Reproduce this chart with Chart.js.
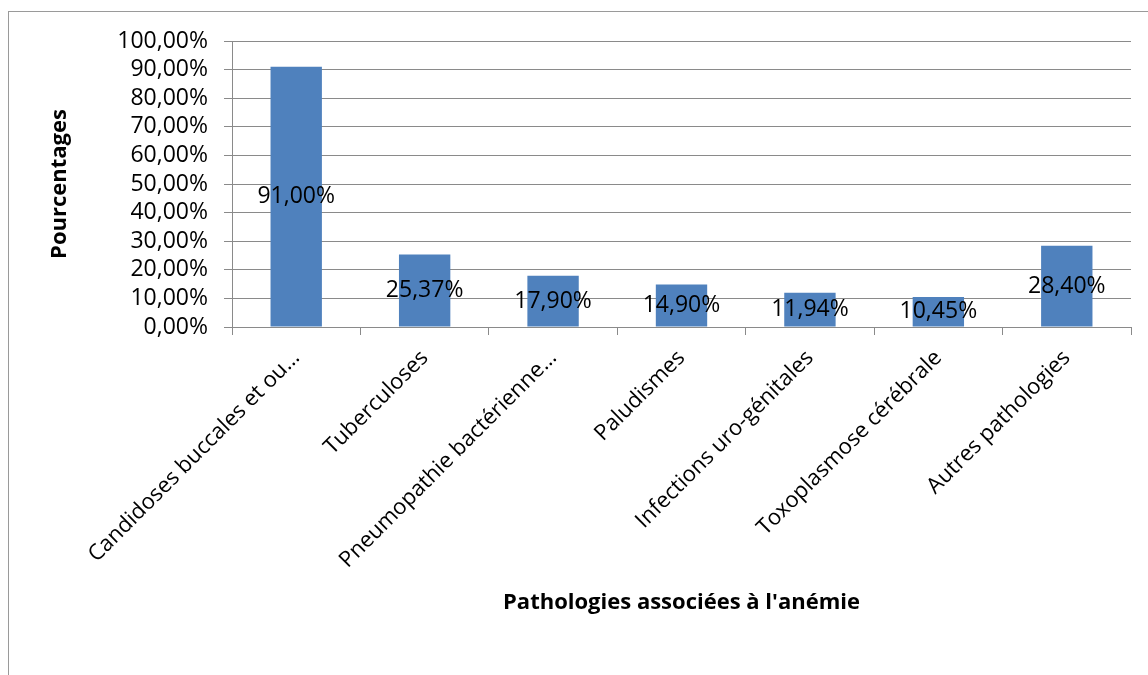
<!DOCTYPE html>
<html><head><meta charset="utf-8">
<script src="https://cdn.jsdelivr.net/npm/chart.js@4/dist/chart.umd.min.js"></script>
<style>
html,body{margin:0;padding:0;background:#fff;}
#wrap{position:relative;width:1148px;height:675px;overflow:hidden;}
#frame{position:absolute;left:8px;top:11px;width:1200px;height:700px;border-left:1px solid #9a9a9a;border-top:1px solid #9a9a9a;}
canvas{position:absolute;left:0;top:0;}
</style></head>
<body><div id="wrap"><div id="frame"></div><canvas id="c" width="1148" height="675"></canvas></div>
<script>
const categories = ["Candidoses buccales et ou…","Tuberculoses","Pneumopathie bactérienne…","Paludismes","Infections uro-génitales","Toxoplasmose cérébrale","Autres pathologies"];
const values = [91.00, 25.37, 17.90, 14.90, 11.94, 10.45, 28.40];
const yTitle = "Pourcentages";
const xTitle = "Pathologies associées à l'anémie";
const FONT = "'Open Sans', 'Noto Sans', sans-serif";
const GRID = '#8a8a8a';
const fmt = v => v.toFixed(2).replace('.', ',') + '%';

const labelPlugin = {
  id: 'barLabels',
  afterDatasetsDraw(chart) {
    const ctx = chart.ctx;
    const meta = chart.getDatasetMeta(0);
    ctx.save();
    ctx.font = "23px " + FONT;
    ctx.fillStyle = '#000';
    ctx.textAlign = 'center';
    ctx.textBaseline = 'middle';
    meta.data.forEach((bar, i) => {
      const y = (bar.y + bar.base) / 2;
      ctx.fillText(fmt(values[i]), bar.x, y);
    });
    ctx.restore();
  }
};

new Chart(document.getElementById('c'), {
  type: 'bar',
  data: { labels: categories, datasets: [{ data: values, backgroundColor: '#4F81BD', barPercentage: 0.4, categoryPercentage: 1.0 }] },
  options: {
    responsive: false, animation: false,
    layout: { padding: { left: 8, top: 41, right: 17, bottom: 59 } },
    plugins: { legend: { display: false }, tooltip: { enabled: false } },
    scales: {
      x: {
        afterFit(s) { s.height = 289; },
        grid: { drawOnChartArea: false, drawTicks: true, tickLength: 8, color: GRID, offset: true },
        border: { display: true, color: GRID },
        ticks: { autoSkip: false, minRotation: 45, maxRotation: 45, color: '#000', font: { family: FONT, size: 22 }, padding: 10 },
        title: { display: true, text: xTitle, color: '#000', font: { family: FONT, size: 22, weight: 'bold' }, padding: 0 }
      },
      y: {
        min: 0, max: 100,
        afterFit(s) { s.width = 224; },
        grid: { color: GRID, tickLength: 8, drawTicks: true },
        border: { display: true, color: GRID },
        ticks: { stepSize: 10, autoSkip: false, maxTicksLimit: 20, color: '#000', font: { family: FONT, size: 23, lineHeight: 1.0 }, padding: 16, callback: v => fmt(v) },
        title: { display: true, text: yTitle, color: '#000', font: { family: FONT, size: 22, weight: 'bold' }, padding: { top: 39, bottom: 0 } }
      }
    }
  },
  plugins: [labelPlugin]
});
</script></body></html>
